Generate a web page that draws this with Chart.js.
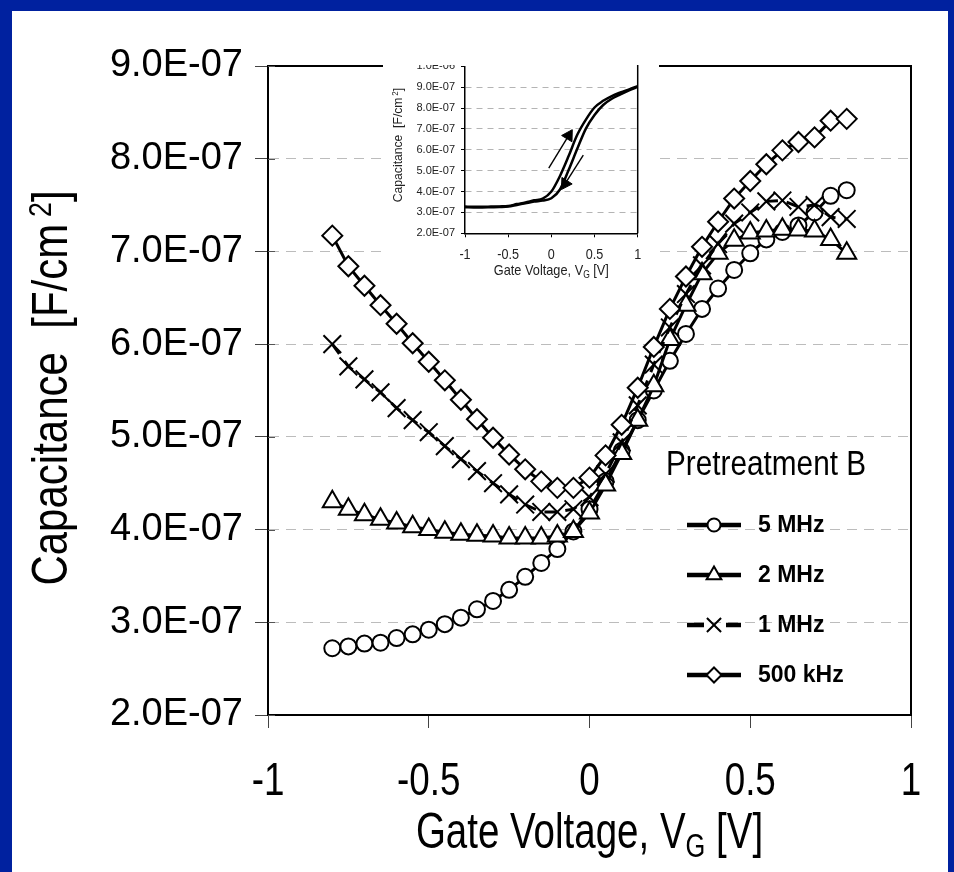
<!DOCTYPE html>
<html><head><meta charset="utf-8">
<script src="https://cdn.jsdelivr.net/npm/chart.js@4/dist/chart.umd.min.js"></script>
<style>
html,body{margin:0;padding:0;background:#00219f;width:954px;height:872px;overflow:hidden;}
#panel{position:absolute;left:12px;top:11px;width:936px;height:861px;background:#fff;}
#mainWrap{position:absolute;left:0;top:0;width:954px;height:872px;}
#insetWrap{position:absolute;left:383px;top:65px;width:276px;height:222px;overflow:hidden;background:#fff;}
#insetInner{position:absolute;left:0;top:-15px;width:276px;height:240px;}
</style></head><body>
<div id="panel"></div>
<div id="mainWrap"><canvas id="main" width="954" height="872"></canvas></div>
<div id="insetWrap"><div id="insetInner"><canvas id="inset" width="276" height="240"></canvas></div></div>
<script>
const SANS = "'Liberation Sans',Arial,sans-serif";

// ---- main chart data ----
const gateVoltage = [-0.80,-0.75,-0.70,-0.65,-0.60,-0.55,-0.50,-0.45,-0.40,-0.35,-0.30,-0.25,-0.20,-0.15,-0.10,-0.05,0.00,0.05,0.10,0.15,0.20,0.25,0.30,0.35,0.40,0.45,0.50,0.55,0.60,0.65,0.70,0.75,0.80];
const cap5MHz = [2.72e-7,2.74e-7,2.77e-7,2.78e-7,2.83e-7,2.87e-7,2.92e-7,2.98e-7,3.05e-7,3.14e-7,3.23e-7,3.35e-7,3.49e-7,3.64e-7,3.79e-7,3.98e-7,4.22e-7,4.52e-7,4.85e-7,5.18e-7,5.50e-7,5.82e-7,6.11e-7,6.38e-7,6.60e-7,6.80e-7,6.98e-7,7.13e-7,7.21e-7,7.28e-7,7.42e-7,7.60e-7,7.66e-7];
const cap2MHz = [4.30e-7,4.22e-7,4.16e-7,4.11e-7,4.07e-7,4.03e-7,4.00e-7,3.97e-7,3.95e-7,3.94e-7,3.93e-7,3.91e-7,3.91e-7,3.91e-7,3.93e-7,3.98e-7,4.18e-7,4.48e-7,4.82e-7,5.18e-7,5.55e-7,6.05e-7,6.42e-7,6.76e-7,6.98e-7,7.12e-7,7.20e-7,7.22e-7,7.24e-7,7.23e-7,7.22e-7,7.13e-7,6.98e-7];
const cap1MHz = [6.00e-7,5.76e-7,5.62e-7,5.48e-7,5.31e-7,5.18e-7,5.05e-7,4.90e-7,4.76e-7,4.63e-7,4.50e-7,4.38e-7,4.27e-7,4.19e-7,4.19e-7,4.22e-7,4.35e-7,4.60e-7,4.94e-7,5.34e-7,5.78e-7,6.18e-7,6.54e-7,6.85e-7,7.08e-7,7.30e-7,7.42e-7,7.54e-7,7.55e-7,7.48e-7,7.50e-7,7.37e-7,7.35e-7];
const cap500kHz = [7.17e-7,6.84e-7,6.63e-7,6.42e-7,6.22e-7,6.01e-7,5.81e-7,5.61e-7,5.40e-7,5.19e-7,4.99e-7,4.81e-7,4.65e-7,4.52e-7,4.45e-7,4.45e-7,4.56e-7,4.80e-7,5.13e-7,5.53e-7,5.97e-7,6.38e-7,6.73e-7,7.05e-7,7.32e-7,7.57e-7,7.76e-7,7.94e-7,8.09e-7,8.18e-7,8.23e-7,8.41e-7,8.43e-7];
const seriesNames = ['5 MHz','2 MHz','1 MHz','500 kHz'];
const legendTitle = 'Pretreatment B';
const xTickValues = [-1,-0.5,0,0.5,1];
const xTickLabels = ['-1','-0.5','0','0.5','1'];
const yTickValues = [2e-7,3e-7,4e-7,5e-7,6e-7,7e-7,8e-7,9e-7];
const yTickLabels = ['2.0E-07','3.0E-07','4.0E-07','5.0E-07','6.0E-07','7.0E-07','8.0E-07','9.0E-07'];
const xTitleParts = ['Gate Voltage, V','G',' [V]'];
const yTitleParts = ['Capacitance  [F/cm','2',']'];

// ---- inset data ----
const insetVoltage = [-1.0,-0.9,-0.8,-0.7,-0.6,-0.5,-0.4,-0.3,-0.2,-0.1,0.0,0.1,0.2,0.3,0.4,0.5,0.6,0.7,0.8,0.9,1.0];
const insetForward = [3.28e-7,3.27e-7,3.27e-7,3.28e-7,3.29e-7,3.31e-7,3.40e-7,3.48e-7,3.58e-7,3.66e-7,4.00e-7,4.75e-7,5.70e-7,6.72e-7,7.45e-7,8.03e-7,8.35e-7,8.58e-7,8.75e-7,8.90e-7,9.05e-7];
const insetReverse = [3.25e-7,3.24e-7,3.24e-7,3.25e-7,3.26e-7,3.28e-7,3.36e-7,3.44e-7,3.52e-7,3.57e-7,3.68e-7,4.10e-7,5.03e-7,6.05e-7,7.02e-7,7.67e-7,8.15e-7,8.45e-7,8.66e-7,8.85e-7,9.02e-7];
const arrowUpV = [-0.03, 0.20];
const arrowUpC = [5.12e-7, 6.68e-7];
const arrowDownV = [0.37, 0.16];
const arrowDownC = [5.75e-7, 4.38e-7];
const insetXTickValues = [-1,-0.5,0,0.5,1];
const insetXTickLabels = ['-1','-0.5','0','0.5','1'];
const insetYTickValues = [2e-7,3e-7,4e-7,5e-7,6e-7,7e-7,8e-7,9e-7,1e-6];
const insetYTickLabels = ['2.0E-07','3.0E-07','4.0E-07','5.0E-07','6.0E-07','7.0E-07','8.0E-07','9.0E-07','1.0E-06'];

// ---- helpers ----
function pts(xs, ys){ return xs.map((v,i)=>({x:v, y:ys[i]})); }

// draw a text run made of [main, script, main] parts, compressed horizontally by sx
function drawRun(ctx, parts, o){
  // o: {x, y, size, subSize, shift, sx, rot, color}
  ctx.save();
  ctx.translate(o.x, o.y);
  if (o.rot) ctx.rotate(o.rot);
  ctx.scale(o.sx, 1);
  ctx.fillStyle = o.color; ctx.textBaseline = 'alphabetic'; ctx.textAlign = 'left';
  const f1 = o.size + 'px ' + SANS, f2 = o.subSize + 'px ' + SANS;
  const widths = parts.map((p, i) => { ctx.font = (i === 1 ? f2 : f1); return ctx.measureText(p).width; });
  const gap = o.gap || 0;
  const total = widths[0] + gap + widths[1] + (parts[2] ? widths[2] : 0);
  let x = -total / 2;
  ctx.font = f1; ctx.fillText(parts[0], x, 0); x += widths[0] + gap;
  if (parts[1]) { ctx.font = f2; ctx.fillText(parts[1], x, o.shift); x += widths[1]; }
  if (parts[2]) { ctx.font = f1; ctx.fillText(parts[2], x, 0); }
  ctx.restore();
}
function drawText(ctx, text, x, y, size, sx, align, color, weight){
  ctx.save(); ctx.translate(x, y); ctx.scale(sx, 1);
  ctx.font = (weight ? weight + ' ' : '') + size + 'px ' + SANS;
  ctx.fillStyle = color; ctx.textAlign = align; ctx.textBaseline = 'alphabetic';
  ctx.fillText(text, 0, 0); ctx.restore();
}

const seriesStyle = [
  {style:'circle', r:8, dash:[], legendR:6.5, legendDash:[]},
  {style:'triangle', r:11, dash:[], legendR:8.5, legendDash:[]},
  {style:'crossRot', r:12.5, dash:[12,9], legendR:10, legendDash:[17,22]},
  {style:'rectRot', r:10, dash:[], legendR:7.5, legendDash:[]}
];
const seriesValues = [cap5MHz, cap2MHz, cap1MHz, cap500kHz];

const mainDatasets = seriesValues.map((vals, i) => ({
  label: seriesNames[i],
  data: pts(gateVoltage, vals),
  borderColor: '#000', borderWidth: 3, borderDash: seriesStyle[i].dash,
  pointStyle: seriesStyle[i].style, pointRadius: seriesStyle[i].r, pointHoverRadius: seriesStyle[i].r,
  pointBorderWidth: 2, pointBackgroundColor: '#fff', pointBorderColor: '#000',
  tension: 0, fill: false, order: 3 - i
}));

const mainFrame = { id:'mainFrame', afterDraw(chart){
  const ctx = chart.ctx, a = chart.chartArea, ys = chart.scales.y, xs = chart.scales.x;
  ctx.save();
  ctx.strokeStyle = '#000'; ctx.lineWidth = 2;
  ctx.beginPath(); ctx.moveTo(a.left, a.top); ctx.lineTo(a.right, a.top); ctx.lineTo(a.right, a.bottom); ctx.stroke();
  ctx.strokeStyle = '#555'; ctx.lineWidth = 1;
  yTickValues.forEach(v => { const y = Math.round(ys.getPixelForValue(v)) + 0.5; ctx.beginPath(); ctx.moveTo(a.left, y); ctx.lineTo(a.left + 7, y); ctx.stroke(); });
  ctx.restore();
  // x tick labels (compressed type, like the original)
  xTickValues.forEach((v, i) => drawText(ctx, xTickLabels[i], xs.getPixelForValue(v), 795, 46, 0.80, 'center', '#000'));
  // axis titles
  drawRun(ctx, xTitleParts, {x: (a.left + a.right)/2, y: 848, size: 50, subSize: 33, shift: 9, sx: 0.77, color: '#000'});
  drawRun(ctx, yTitleParts, {x: 67, y: 388, size: 50, subSize: 32, shift: -16, sx: 0.84, gap: 8, rot: -Math.PI/2, color: '#000'});
}};

const mainLegend = { id:'mainLegend', afterDraw(chart){
  const ctx = chart.ctx;
  drawText(ctx, legendTitle, 666, 475, 35, 0.85, 'left', '#000');
  ctx.save();
  const rows = [525, 575, 625, 675];
  seriesNames.forEach((name, i) => {
    const y = rows[i], st = seriesStyle[i];
    ctx.strokeStyle = '#000'; ctx.lineWidth = 4.5; ctx.setLineDash(st.legendDash);
    ctx.beginPath(); ctx.moveTo(687, y); ctx.lineTo(741, y); ctx.stroke();
    ctx.setLineDash([]);
    ctx.fillStyle = '#fff'; ctx.strokeStyle = '#000'; ctx.lineWidth = 2;
    Chart.helpers.drawPoint(ctx, {pointStyle: st.style, radius: st.legendR, rotation: 0, borderWidth: 2}, 714, y);
    ctx.fillStyle = '#000'; ctx.font = 'bold 23px ' + SANS; ctx.textAlign = 'left'; ctx.textBaseline = 'middle';
    ctx.fillText(name, 758, y + 1);
  });
  ctx.restore();
}};

new Chart(document.getElementById('main'), {
  type: 'line',
  data: { datasets: mainDatasets },
  options: {
    responsive: false, animation: false, events: [],
    layout: { padding: { top: 66, right: 43, left: 0, bottom: 0 } },
    plugins: { legend: { display: false }, tooltip: { enabled: false } },
    scales: {
      x: {
        type: 'linear', min: -1, max: 1,
        afterBuildTicks: s => { s.ticks = xTickValues.map(v => ({value: v})); },
        afterFit: s => { s.height = 157; },
        ticks: { display: false },
        grid: { drawOnChartArea: false, drawTicks: true, tickLength: 13, tickColor: '#444', tickWidth: 1 },
        border: { color: '#000', width: 2 }
      },
      y: {
        type: 'linear', min: 2e-7, max: 9e-7,
        afterBuildTicks: s => { s.ticks = yTickValues.map(v => ({value: v})); },
        afterFit: s => { s.width = 268; },
        ticks: { callback: (v, i) => yTickLabels[i], font: { family: SANS, size: 38 }, color: '#000', padding: 12, autoSkip: false },
        grid: { drawOnChartArea: true, drawTicks: true, tickLength: 13, color: '#bcbcbc', lineWidth: 1, tickColor: '#444', tickWidth: 1, tickBorderDash: [] },
        border: { color: '#000', width: 2, dash: [10, 7] }
      }
    }
  },
  plugins: [mainFrame, mainLegend]
});

// ---- inset chart ----
function arrowRotation(ctx){
  const c = ctx.chart, xs = c.scales.x, ys = c.scales.y, d = ctx.dataset.data;
  const dx = xs.getPixelForValue(d[1].x) - xs.getPixelForValue(d[0].x);
  const dy = ys.getPixelForValue(d[1].y) - ys.getPixelForValue(d[0].y);
  return Math.atan2(dx, -dy) * 180 / Math.PI;
}
function arrowDataset(vs, cs){
  return { data: pts(vs, cs), borderColor: '#000', borderWidth: 1.4, pointStyle: 'triangle',
    pointRadius: [0, 7], pointBackgroundColor: '#000', pointBorderColor: '#000', pointBorderWidth: 1,
    pointRotation: arrowRotation, tension: 0, fill: false };
}
const insetFrame = { id:'insetFrame', afterDraw(chart){
  const ctx = chart.ctx, a = chart.chartArea, xs = chart.scales.x;
  ctx.save(); ctx.strokeStyle = '#000'; ctx.lineWidth = 1.5;
  ctx.beginPath(); ctx.moveTo(a.right, a.top - 2); ctx.lineTo(a.right, a.bottom); ctx.stroke();
  ctx.restore();
  insetXTickValues.forEach((v, i) => drawText(ctx, insetXTickLabels[i], xs.getPixelForValue(v), 209, 14, 0.9, 'center', '#222'));
  drawRun(ctx, xTitleParts, {x: (a.left + a.right)/2, y: 225, size: 15, subSize: 10, shift: 3, sx: 0.85, color: '#222'});
  drawRun(ctx, yTitleParts, {x: 19, y: 95, size: 13.5, subSize: 9, shift: -4, sx: 0.9, gap: 2, rot: -Math.PI/2, color: '#222'});
}};

new Chart(document.getElementById('inset'), {
  type: 'line',
  data: { datasets: [
    { data: pts(insetVoltage, insetForward), borderColor: '#000', borderWidth: 2.5, pointRadius: 0, cubicInterpolationMode: 'monotone', fill: false },
    { data: pts(insetVoltage, insetReverse), borderColor: '#000', borderWidth: 2.5, pointRadius: 0, cubicInterpolationMode: 'monotone', fill: false },
    arrowDataset(arrowUpV, arrowUpC),
    arrowDataset(arrowDownV, arrowDownC)
  ]},
  options: {
    responsive: false, animation: false, events: [],
    layout: { padding: { top: 16.4, right: 21.3, left: 0, bottom: 0 } },
    plugins: { legend: { display: false }, tooltip: { enabled: false } },
    scales: {
      x: {
        type: 'linear', min: -1, max: 1,
        afterBuildTicks: s => { s.ticks = insetXTickValues.map(v => ({value: v})); },
        afterFit: s => { s.height = 56.7; },
        ticks: { display: false },
        grid: { drawOnChartArea: false, drawTicks: true, tickLength: 4, tickColor: '#000', tickWidth: 1 },
        border: { color: '#000', width: 1.5 }
      },
      y: {
        type: 'linear', min: 2e-7, max: 1e-6,
        afterBuildTicks: s => { s.ticks = insetYTickValues.map(v => ({value: v})); },
        afterFit: s => { s.width = 82; },
        ticks: { callback: (v, i) => insetYTickLabels[i], font: { family: SANS, size: 11 }, color: '#222', padding: 6, autoSkip: false },
        grid: { drawOnChartArea: true, drawTicks: true, tickLength: 4,
          color: c => (c.tick && c.tick.value > 9.5e-7) ? 'rgba(0,0,0,0)' : '#b4b4b4',
          lineWidth: 1, tickColor: '#000', tickWidth: 1, tickBorderDash: [] },
        border: { color: '#000', width: 1.5, dash: [6, 5] }
      }
    }
  },
  plugins: [insetFrame]
});
</script>
</body></html>
